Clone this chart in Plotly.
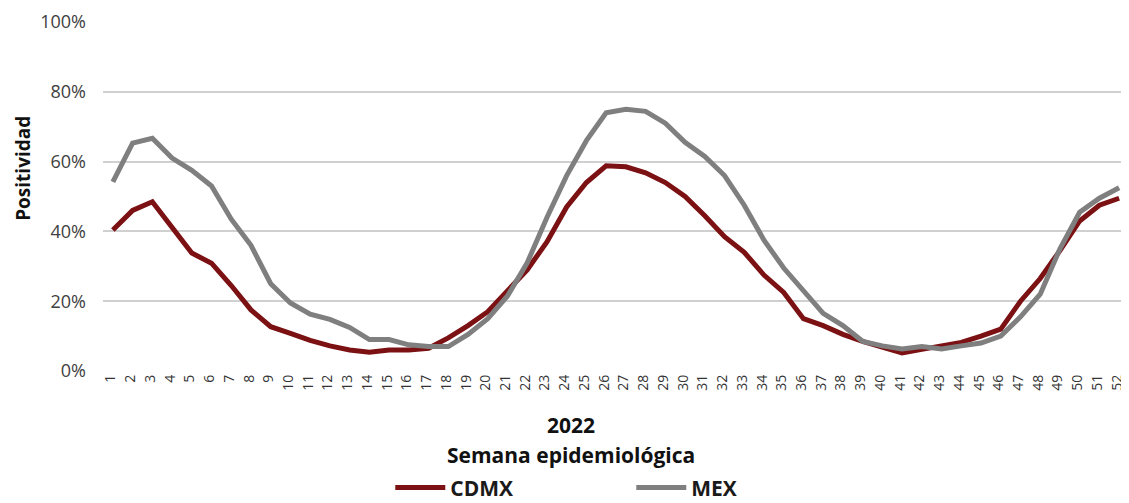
import plotly.graph_objects as go

semanas = list(range(1, 53))
cdmx = [40.4, 46.0, 48.5, 41.0, 33.8, 30.9, 24.5, 17.5, 12.7, 10.8,
        8.8, 7.2, 6.0, 5.4, 6.0, 6.0, 6.5, 9.5, 13.0, 17.0,
        23.0, 29.0, 37.0, 47.0, 54.0, 58.8, 58.5, 56.8, 54.0, 50.0,
        44.5, 38.5, 34.0, 27.5, 22.5, 15.0, 13.0, 10.5, 8.5, 7.0,
        5.2, 6.2, 7.2, 8.2, 10.0, 12.0, 20.0, 26.5, 34.5, 43.0,
        47.5, 49.5]
mex = [54.2, 65.3, 66.7, 61.0, 57.5, 53.0, 43.5, 36.0, 25.0, 19.5,
       16.3, 14.8, 12.5, 9.0, 9.0, 7.5, 7.0, 7.0, 10.5, 15.0,
       21.5, 31.0, 44.0, 56.0, 66.0, 74.0, 75.0, 74.4, 71.0, 65.5,
       61.5, 56.0, 47.5, 37.5, 29.5, 23.0, 16.5, 13.0, 8.5, 7.2,
       6.3, 7.0, 6.3, 7.2, 8.0, 10.0, 15.5, 22.0, 35.0, 45.5,
       49.5, 52.5]
tick_labels = [str(s) for s in semanas]
y_ticks = [0, 0.2, 0.4, 0.6, 0.8, 1.0]

FONT = "Open Sans"

fig = go.Figure()
fig.add_trace(go.Scatter(x=semanas, y=[v / 100 for v in cdmx], name="CDMX", mode="lines",
                         line=dict(color="#7B1113", width=5)))
fig.add_trace(go.Scatter(x=semanas, y=[v / 100 for v in mex], name="MEX", mode="lines",
                         line=dict(color="#7F7F7F", width=5)))

fig.update_layout(
    width=1121, height=495,
    margin=dict(l=95, r=0, t=14, b=132, autoexpand=False),
    plot_bgcolor="white", paper_bgcolor="white",
    font=dict(family=FONT, color="#404040"),
    showlegend=True,
    legend=dict(orientation="h", x=0.28, xanchor="left", y=-0.335, yanchor="middle",
                font=dict(family=FONT, size=21, color="#1a1a1a", weight="bold"),
                entrywidth=176, entrywidthmode="pixels", itemwidth=50),
    xaxis=dict(range=[0.5, 52.5], tickmode="array", tickvals=semanas, ticktext=tick_labels,
               tickangle=-90, tickfont=dict(size=14, color="#333333"), ticklabeloverflow="allow",
               ticklabelshift=-2,
               showgrid=False, zeroline=False, showline=False, ticks="", automargin=False),
    yaxis=dict(range=[0, 1.0], tickvals=y_ticks, tickformat=".0%",
               tickfont=dict(size=18, color="#404040"),
               showgrid=True, gridcolor="#D0D0D0", gridwidth=1.5, automargin=False,
               zeroline=False, showline=False, ticks="", ticklabelstandoff=16),
)

fig.add_annotation(text="<b>Positividad</b>", xref="paper", yref="paper", x=-0.078, y=0.582,
                   textangle=-90, showarrow=False, xanchor="center", yanchor="middle",
                   font=dict(size=19, color="#111111", family=FONT))
fig.add_annotation(text="<b>2022</b>", xref="paper", yref="paper", x=0.456, y=-0.155,
                   showarrow=False, font=dict(size=21, color="#111111", family=FONT), yanchor="middle")
fig.add_annotation(text="<b>Semana epidemiológica</b>", xref="paper", yref="paper", x=0.456, y=-0.24,
                   showarrow=False, font=dict(size=21, color="#111111", family=FONT), yanchor="middle")

fig.write_html("out.html")
